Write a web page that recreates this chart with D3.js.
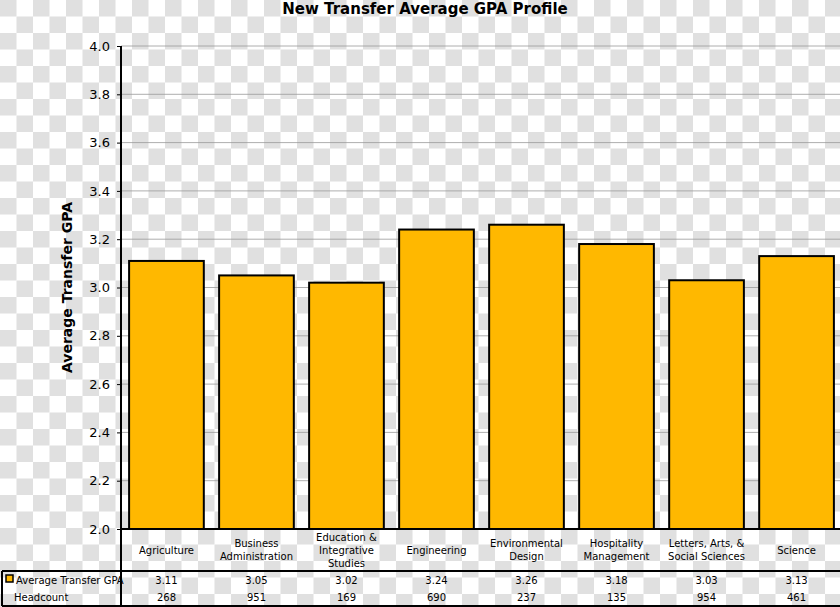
<!DOCTYPE html>
<html><head><meta charset="utf-8">
<script src="https://cdn.jsdelivr.net/npm/d3@7"></script>
<style>body{margin:0}svg{display:block}</style></head>
<body><svg id="c" width="840" height="607"></svg>
<script>
const categories=[["Agriculture"],["Business","Administration"],["Education &","Integrative","Studies"],["Engineering"],["Environmental","Design"],["Hospitality","Management"],["Letters, Arts, &","Social Sciences"],["Science"]];
const gpa=[3.11,3.05,3.02,3.24,3.26,3.18,3.03,3.13];
const headcount=[268,951,169,690,237,135,954,461];
const yTicks=[2.0,2.2,2.4,2.6,2.8,3.0,3.2,3.4,3.6,3.8,4.0];
const svg=d3.select("#c");
const W=840,H=607,sq=16.5;
const defs=svg.append("defs");
const p=defs.append("pattern").attr("id","chk").attr("width",sq*2).attr("height",sq*2).attr("patternUnits","userSpaceOnUse");
p.append("rect").attr("width",sq*2).attr("height",sq*2).attr("fill","#fff");
p.append("rect").attr("width",sq).attr("height",sq).attr("fill","#e0e0e0");
p.append("rect").attr("x",sq).attr("y",sq).attr("width",sq).attr("height",sq).attr("fill","#e0e0e0");
svg.append("rect").attr("width",W).attr("height",H).attr("fill","url(#chk)");
const L=121,R=842,T=46,B=529;
const x=d3.scaleBand().domain(d3.range(8)).range([L,R]).paddingInner(0.17).paddingOuter(0.09);
const xb=d3.scaleBand().domain(d3.range(8)).range([L,R]);
const y=d3.scaleLinear().domain([2,4]).range([B,T]);
const f="DejaVu Sans, Verdana, sans-serif";
svg.append("g").selectAll("line").data(yTicks).join("line").attr("x1",L).attr("x2",W).attr("y1",d=>y(d)).attr("y2",d=>y(d)).attr("stroke","#999").attr("stroke-width",0.8);
svg.append("g").selectAll("rect").data(gpa).join("rect").attr("x",(d,i)=>x(i)).attr("width",x.bandwidth()).attr("y",d=>y(d)).attr("height",d=>B-y(d)).attr("fill","#FFB800").attr("stroke","#000").attr("stroke-width",2);
const ax=svg.append("g").attr("transform",`translate(${L},0)`).call(d3.axisLeft(y).tickValues(yTicks).tickFormat(d3.format(".1f")).tickSize(4));
ax.select(".domain").attr("stroke","#000").attr("stroke-width",2).attr("d",`M0,${T}V${B}`);
ax.selectAll("text").attr("font-family",f).attr("font-size",13).attr("fill","#000").attr("dx",-4);
ax.selectAll("line").attr("stroke","#000");
svg.append("text").attr("x",425).attr("y",14).attr("text-anchor","middle").attr("font-family",f).attr("font-weight","bold").attr("font-size",15).text("New Transfer Average GPA Profile");
svg.append("text").attr("transform",`translate(72,${(T+B)/2}) rotate(-90)`).attr("text-anchor","middle").attr("font-family",f).attr("font-weight","bold").attr("font-size",14).text("Average Transfer GPA");
// table
const tb=svg.append("g").attr("stroke","#000").attr("stroke-width",2);
tb.append("line").attr("x1",L).attr("x2",L).attr("y1",B).attr("y2",606);
tb.append("line").attr("x1",L).attr("x2",W).attr("y1",B).attr("y2",B);
tb.append("line").attr("x1",2).attr("x2",W).attr("y1",571).attr("y2",571);
tb.append("line").attr("x1",2).attr("x2",W).attr("y1",606).attr("y2",606);
tb.append("line").attr("x1",2).attr("x2",2).attr("y1",571).attr("y2",606);
const cg=svg.append("g").attr("font-family",f).attr("font-size",10).attr("text-anchor","middle");
categories.forEach((c,i)=>{const cx=x(i)+x.bandwidth()/2;const y0=550-(c.length-1)*6.5+3.5;
 c.forEach((s,j)=>cg.append("text").attr("x",cx).attr("y",y0+j*13).text(s));
 cg.append("text").attr("x",cx).attr("y",584).text(gpa[i].toFixed(2));
 cg.append("text").attr("x",cx).attr("y",601).text(headcount[i]);});
svg.append("rect").attr("x",6).attr("y",575).attr("width",7).attr("height",7).attr("fill","#FFB800").attr("stroke","#000").attr("stroke-width",1.5);
svg.append("text").attr("x",16).attr("y",584).attr("font-family",f).attr("font-size",10).text("Average Transfer GPA");
svg.append("text").attr("x",14).attr("y",601).attr("font-family",f).attr("font-size",10).text("Headcount");
</script></body></html>
